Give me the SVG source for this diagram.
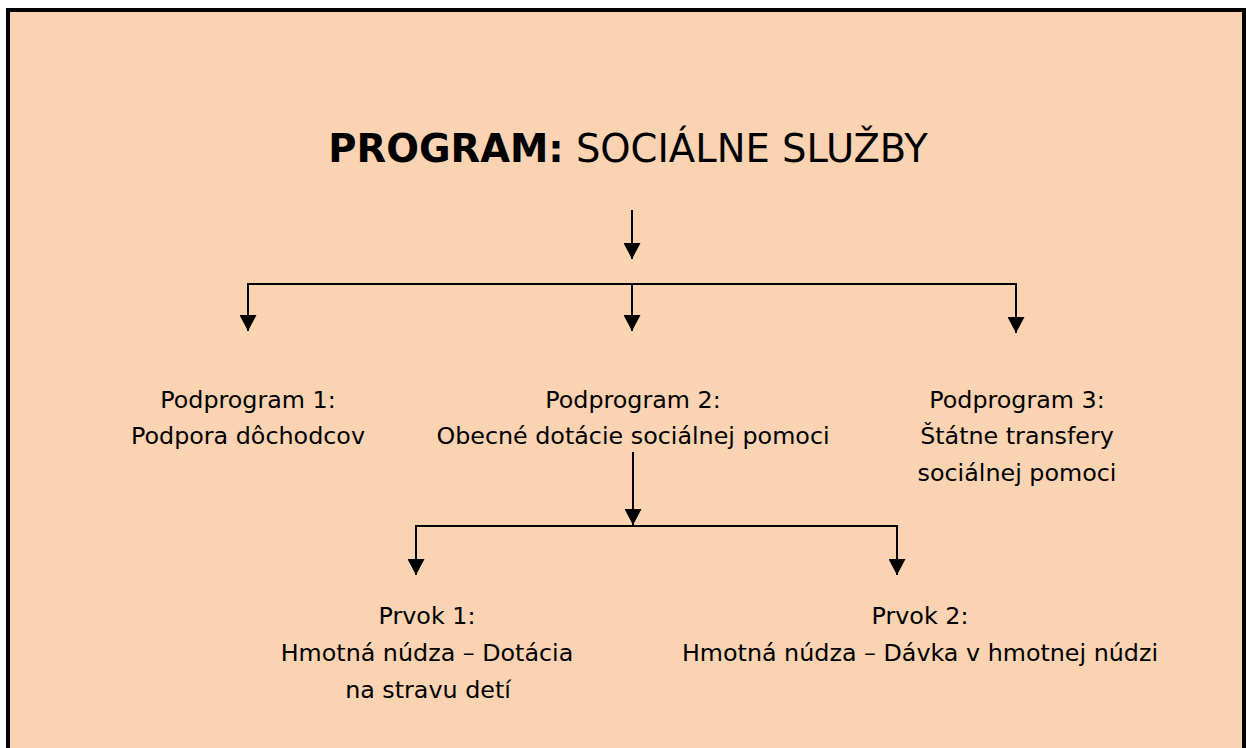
<svg xmlns="http://www.w3.org/2000/svg" width="1246" height="748" viewBox="0 0 1246 748">
<style>
.t{font-family:"DejaVu Sans",sans-serif;font-size:23.8px;fill:#000;text-anchor:middle}
.ttl{font-family:"DejaVu Sans",sans-serif;font-size:38.5px;fill:#000;text-anchor:middle}
.c{fill:none;stroke:#000;stroke-width:2}
</style>
<defs>
<marker id="ah" markerUnits="userSpaceOnUse" markerWidth="17" markerHeight="17" viewBox="0 0 17 17" refX="16" refY="8.5" orient="auto">
<path d="M0,0 L16,8.5 L0,17 Z" fill="#000"/>
</marker>
</defs>
<rect x="0" y="0" width="1246" height="748" fill="#fff"/>
<rect x="8" y="10" width="1236" height="760" fill="#FAD3B3" stroke="#000" stroke-width="4"/>
<g id="title">
<text class="ttl" x="628" y="162"><tspan font-weight="bold">PROGRAM:</tspan> SOCIÁLNE SLUŽBY</text>
</g>
<g id="connectors">
<path class="c" d="M632,210 V259" marker-end="url(#ah)"/>
<path class="c" d="M248,284 H1016"/>
<path class="c" d="M248,283 V331" marker-end="url(#ah)"/>
<path class="c" d="M632,283 V331" marker-end="url(#ah)"/>
<path class="c" d="M1016,283 V333" marker-end="url(#ah)"/>
<path class="c" d="M633,452 V525" marker-end="url(#ah)"/>
<path class="c" d="M416,526 H897"/>
<path class="c" d="M416,525 V575" marker-end="url(#ah)"/>
<path class="c" d="M897,525 V575" marker-end="url(#ah)"/>
</g>
<g id="podprogram1">
<text class="t" x="248" y="408">Podprogram 1:</text>
<text class="t" x="248" y="444">Podpora dôchodcov</text>
</g>
<g id="podprogram2">
<text class="t" x="633" y="408">Podprogram 2:</text>
<text class="t" x="633" y="444">Obecné dotácie sociálnej pomoci</text>
</g>
<g id="podprogram3">
<text class="t" x="1017" y="408">Podprogram 3:</text>
<text class="t" x="1017" y="444">Štátne transfery</text>
<text class="t" x="1017" y="481">sociálnej pomoci</text>
</g>
<g id="prvok1">
<text class="t" x="427" y="624">Prvok 1:</text>
<text class="t" x="427" y="661">Hmotná núdza – Dotácia</text>
<text class="t" x="428" y="698">na stravu detí</text>
</g>
<g id="prvok2">
<text class="t" x="920" y="624">Prvok 2:</text>
<text class="t" x="920" y="661">Hmotná núdza – Dávka v hmotnej núdzi</text>
</g>
</svg>
